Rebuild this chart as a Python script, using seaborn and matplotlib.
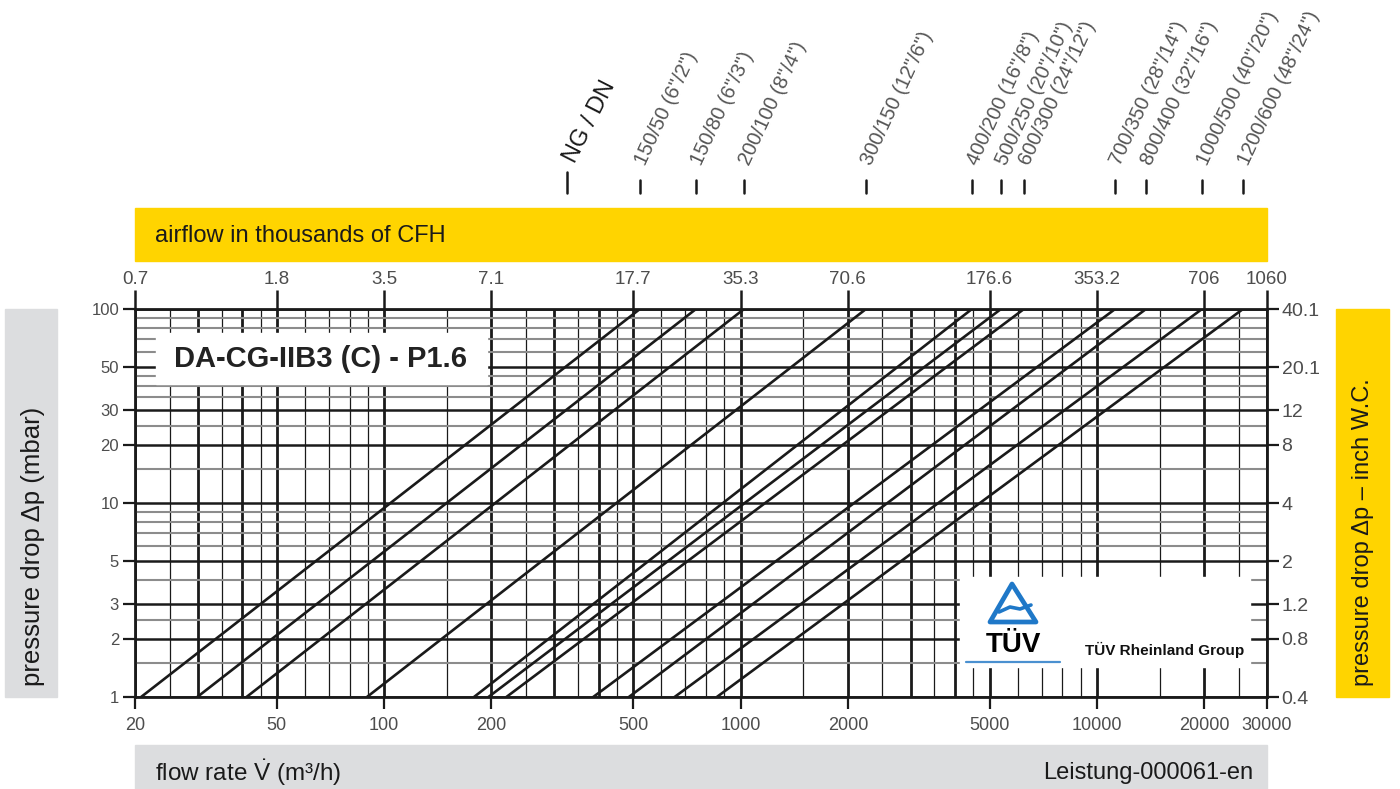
import matplotlib
matplotlib.use("Agg")
import matplotlib.pyplot as plt
import matplotlib.transforms as mtransforms
from matplotlib.patches import Rectangle, Polygon
from matplotlib.ticker import NullLocator
import pandas as pd
import seaborn as sns

# valve sizes NG/DN, flow rate (m3/h) read where each line meets 1 mbar and 100 mbar
sizes = ['150/50 (6"/2")', '150/80 (6"/3")', '200/100 (8"/4")', '300/150 (12"/6")',
         '400/200 (16"/8")', '500/250 (20"/10")', '600/300 (24"/12")',
         '700/350 (28"/14")', '800/400 (32"/16")', '1000/500 (40"/20")', '1200/600 (48"/24")']
flow_at_1mbar = [20.8, 29.9, 41.1, 89.5, 178.7, 196.2, 220.3, 386, 486, 653, 858]
flow_at_100mbar = [522, 750, 1023, 2249, 4460, 5380, 6240, 11250, 13730, 19720, 25690]
dp_ends = [1, 100]

x_ticks = [20, 50, 100, 200, 500, 1000, 2000, 5000, 10000, 20000, 30000]
cfh_labels = ['0.7', '1.8', '3.5', '7.1', '17.7', '35.3', '70.6', '176.6', '353.2', '706', '1060']
y_ticks = [1, 2, 3, 5, 10, 20, 30, 50, 100]
inch_wc_labels = ['0.4', '0.8', '1.2', '2', '4', '8', '12', '20.1', '40.1']

x_major_grid = [20, 30, 40, 50, 100, 200, 300, 400, 500, 1000, 2000, 3000, 4000, 5000,
                10000, 20000, 30000]
x_minor_grid = [25, 35, 45, 60, 70, 80, 90, 150, 250, 350, 450, 600, 700, 800, 900,
                1500, 2500, 3500, 4500, 6000, 7000, 8000, 9000, 15000, 25000]
y_major_grid = [1, 2, 3, 5, 10, 20, 30, 50, 100]
y_minor_grid = [1.5, 2.5, 4, 6, 7, 8, 9, 15, 25, 35, 40, 45, 60, 70, 80, 90]

YELLOW = '#ffd400'
GREY = '#dcdddf'
INK = '#1a1a1a'
LABEL = '#4d4d4d'

sns.set_theme(style='white')
plt.rcParams['font.family'] = ['Liberation Sans', 'DejaVu Sans']
plt.rcParams['mathtext.fontset'] = 'custom'
plt.rcParams['mathtext.rm'] = 'Liberation Sans'

W, H = 1400, 789
fig = plt.figure(figsize=(14, 7.89), dpi=100)
fig.patch.set_facecolor('white')


def fx(px):
    return px / W


def fy(py):
    return 1 - py / H


ax = fig.add_axes([fx(135), fy(697), fx(1267) - fx(135), fy(309) - fy(697)])
ax.set_xscale('log')
ax.set_yscale('log')

df = pd.DataFrame({
    'size': [s for s in sizes for _ in dp_ends],
    'flow': [q for pair in zip(flow_at_1mbar, flow_at_100mbar) for q in pair],
    'dp': dp_ends * len(sizes),
})
sns.lineplot(data=df, x='flow', y='dp', units='size', estimator=None, color=INK,
             lw=1.9, ax=ax, zorder=3, legend=False)

for v in x_major_grid:
    ax.axvline(v, color=INK, lw=2.0, zorder=1)
for v in x_minor_grid:
    ax.axvline(v, color=INK, lw=0.9, zorder=1)
for v in y_minor_grid:
    ax.axhline(v, color='#8c8c8c', lw=1.5, zorder=1)
for v in y_major_grid:
    ax.axhline(v, color=INK, lw=1.8, zorder=2)

ax.set_xlim(20, 30000)
ax.set_ylim(1, 100)
ax.set_xlabel('')
ax.set_ylabel('')
ax.set_xticks(x_ticks, [str(v) for v in x_ticks])
ax.set_yticks(y_ticks, [str(v) for v in y_ticks])
ax.xaxis.set_minor_locator(NullLocator())
ax.yaxis.set_minor_locator(NullLocator())
ax.tick_params(axis='both', direction='out', length=8.5, width=1.6, color=INK,
               labelcolor=LABEL)
ax.tick_params(axis='x', pad=6, labelsize=13)
ax.tick_params(axis='y', pad=3, labelsize=12)
for sp in ax.spines.values():
    sp.set_color(INK)
    sp.set_linewidth(2)

# top axis: airflow in thousands of CFH
axt = ax.twiny()
axt.set_xscale('log')
axt.set_xlim(20, 30000)
axt.set_xticks(x_ticks, cfh_labels)
axt.xaxis.set_minor_locator(NullLocator())
axt.tick_params(axis='x', direction='out', length=14, width=1.8, color=INK,
                labelsize=13.5, labelcolor=LABEL, pad=1)
axt.grid(False)
for sp in axt.spines.values():
    sp.set_visible(False)

# right axis: inch W.C.
axr = ax.twinx()
axr.set_yscale('log')
axr.set_ylim(1, 100)
axr.set_yticks(y_ticks, inch_wc_labels)
axr.yaxis.set_minor_locator(NullLocator())
axr.tick_params(axis='y', direction='out', length=8.5, width=1.6, color=INK,
                labelsize=14, labelcolor=LABEL, pad=2)
axr.grid(False)
for sp in axr.spines.values():
    sp.set_visible(False)

# valve size labels above the chart, at the flow where each line hits 100 mbar
blend = mtransforms.blended_transform_factory(ax.transData, ax.transAxes)


def ay(py):
    return (697 - py) / 388


for s, q in zip(sizes, flow_at_100mbar):
    ax.plot([q, q], [ay(180), ay(193)], color=INK, lw=1.8, transform=blend, clip_on=False)
    tr = mtransforms.offset_copy(blend, fig=fig, x=5, y=0, units='dots')
    ax.text(q, ay(166), s, transform=tr, rotation=65, rotation_mode='anchor',
            ha='left', va='baseline', fontsize=14.5, color='#555555')

fig.add_artist(plt.Line2D([fx(567), fx(567)], [fy(172), fy(193)], color=INK, lw=1.8))
fig.text(fx(575), fy(164), 'NG / DN', rotation=63, rotation_mode='anchor',
         ha='left', va='baseline', fontsize=17, color=INK)

# coloured bands and their captions
fig.add_artist(Rectangle((fx(135), fy(261)), fx(1267) - fx(135), fy(208) - fy(261),
                         transform=fig.transFigure, color=YELLOW, zorder=0))
fig.text(fx(155), fy(236), 'airflow in thousands of CFH', ha='left', va='center',
         fontsize=17, color=INK)

fig.add_artist(Rectangle((fx(135), fy(789)), fx(1267) - fx(135), fy(745) - fy(789),
                         transform=fig.transFigure, color=GREY, zorder=0))
fig.text(fx(155), fy(773), r'flow rate $\dot{\mathrm{V}}$ (m³/h)', ha='left', va='center',
         fontsize=17.5, color=INK)
fig.text(fx(1253), fy(773), 'Leistung-000061-en', ha='right', va='center',
         fontsize=17, color=INK)

fig.add_artist(Rectangle((fx(5), fy(697)), fx(57) - fx(5), fy(309) - fy(697),
                         transform=fig.transFigure, color=GREY, zorder=0))
fig.text(fx(33), fy(686), 'pressure drop Δp (mbar)', rotation=90, ha='center',
         va='bottom', fontsize=18.5, color=INK)

fig.add_artist(Rectangle((fx(1336), fy(697)), fx(1389) - fx(1336), fy(309) - fy(697),
                         transform=fig.transFigure, color=YELLOW, zorder=0))
fig.text(fx(1363), fy(686), 'pressure drop Δp – inch W.C.', rotation=90, ha='center',
         va='bottom', fontsize=17, color=INK)

# model title box
fig.add_artist(Rectangle((fx(156), fy(384)), fx(487) - fx(156), fy(333) - fy(384),
                         transform=fig.transFigure, color='white', zorder=5))
fig.text(fx(320), fy(359), 'DA-CG-IIB3 (C) - P1.6', ha='center', va='center',
         fontsize=21, fontweight='bold', color='#222222', zorder=6)

# TUV logo box
fig.add_artist(Rectangle((fx(960), fy(667)), fx(1250) - fx(960), fy(577) - fy(667),
                         transform=fig.transFigure, color='white', zorder=5))
tri = [(fx(1012), fy(584)), (fx(990), fy(622)), (fx(1036), fy(622))]
fig.add_artist(Polygon(tri, closed=True, fill=False, edgecolor='#1f78c8', lw=3.4,
                       joinstyle='round', transform=fig.transFigure, zorder=6))
fig.add_artist(plt.Line2D([fx(999), fx(1010), fx(1020), fx(1031)],
                          [fy(612), fy(607), fy(609), fy(605)],
                          color='#1f78c8', lw=2.6, zorder=6))
fig.text(fx(1013), fy(645), 'TÜV', ha='center', va='center', fontsize=20,
         fontweight='bold', color='black', zorder=7)
fig.add_artist(plt.Line2D([fx(966), fx(1060)], [fy(662), fy(662)],
                          color='#4a90d0', lw=1.6, zorder=6))
fig.text(fx(1085), fy(650), 'TÜV Rheinland Group', ha='left', va='center', fontsize=11,
         fontweight='bold', color='#111111', zorder=7)

fig.savefig('out.png', dpi=100, facecolor='white')
